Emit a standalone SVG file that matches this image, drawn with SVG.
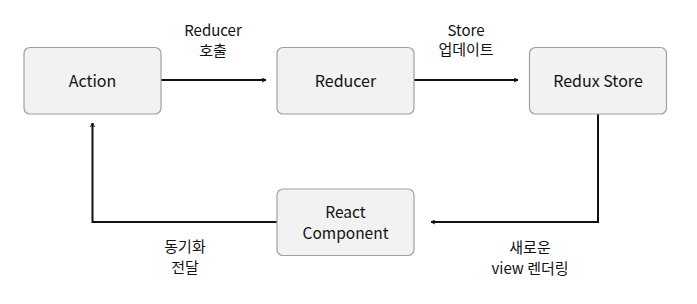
<svg xmlns="http://www.w3.org/2000/svg" width="697" height="304" viewBox="0 0 697 304">
  <style>
    .node rect { fill: #f2f2f2; stroke: #a0a0a0; stroke-width: 1.2; }
    .node text { font-family: "Noto Sans CJK KR", "Noto Sans", sans-serif; font-size: 16px; font-weight: 400; fill: #111; text-anchor: middle; dominant-baseline: central; }
    .edge { fill: none; stroke: #111; stroke-width: 2; }
    .lbl { font-family: "Noto Sans CJK KR", "Noto Sans", sans-serif; font-size: 15px; fill: #111; text-anchor: middle; dominant-baseline: central; }
  </style>
  <defs>
    <marker id="arrow" viewBox="0 0 10 10" refX="9" refY="5" markerWidth="5" markerHeight="5" orient="auto" markerUnits="userSpaceOnUse">
      <path d="M1,1 L9,5 L1,9" fill="none" stroke="#111" stroke-width="2"/>
    </marker>
  </defs>
  <rect width="697" height="304" fill="#fff"/>

  <g id="connectors">
    <path class="edge" d="M161,80 H266" marker-end="url(#arrow)"/>
    <path class="edge" d="M414,80 H518" marker-end="url(#arrow)"/>
    <path class="edge" d="M598,114 V222 H431" marker-end="url(#arrow)"/>
    <path class="edge" d="M277,222 H92.5 V123" marker-end="url(#arrow)"/>
    <text class="lbl" x="213" y="29">Reducer</text>
    <text class="lbl" x="213" y="49">호출</text>
    <text class="lbl" x="466" y="29">Store</text>
    <text class="lbl" x="466" y="48">업데이트</text>
    <text class="lbl" x="185" y="245">동기화</text>
    <text class="lbl" x="185" y="266">전달</text>
    <text class="lbl" x="530" y="246">새로운</text>
    <text class="lbl" x="530" y="267">view 렌더링</text>
  </g>

  <g id="action" class="node">
    <rect x="24" y="47.5" width="137" height="66.5" rx="6"/>
    <text x="92.5" y="80">Action</text>
  </g>
  <g id="reducer" class="node">
    <rect x="277" y="47.5" width="137" height="66.5" rx="6"/>
    <text x="345.5" y="80">Reducer</text>
  </g>
  <g id="redux-store" class="node">
    <rect x="529.5" y="47.5" width="137" height="66.5" rx="6"/>
    <text x="598" y="80">Redux Store</text>
  </g>
  <g id="react-component" class="node">
    <rect x="277" y="189" width="137" height="66.5" rx="6"/>
    <text x="345.5" y="211" style="font-size:15.5px">React</text>
    <text x="345.5" y="232" style="font-size:15.5px">Component</text>
  </g>
</svg>
